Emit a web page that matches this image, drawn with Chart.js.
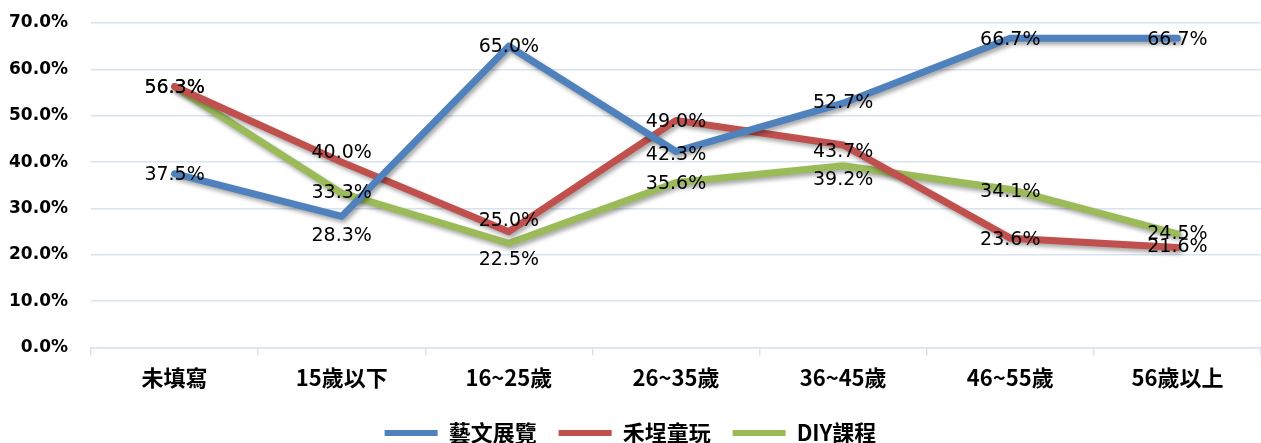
<!DOCTYPE html>
<html>
<head>
<meta charset="utf-8">
<script src="https://cdn.jsdelivr.net/npm/chart.js@4/dist/chart.umd.min.js"></script>
<style>
html,body{margin:0;padding:0;background:#fff;}
canvas{display:block;}
</style>
</head>
<body>
<canvas id="c" width="1261" height="443"></canvas>
<script>
const categories = ['未填寫', '15歲以下', '16~25歲', '26~35歲', '36~45歲', '46~55歲', '56歲以上'];
const seriesNames = ['藝文展覽', '禾埕童玩', 'DIY課程'];
const artExhibition = [37.5, 28.3, 65.0, 42.3, 52.7, 66.7, 66.7];
const farmToys = [56.3, 40.0, 25.0, 49.0, 43.7, 23.6, 21.6];
const diyCourse = [56.3, 33.3, 22.5, 35.6, 39.2, 34.1, 24.5];
const yTicks = [0, 10, 20, 30, 40, 50, 60, 70];

// label placement (style): vertical nudge of each data label relative to its point
const labelNudge = [
  [1, 20, 1, 4, 0, 2, 2],
  [2, -9, -11, 2, 7, 2, 0],
  [2, 0, 17, 2, 14, 3, 0]
];
const colors = ['#4F81BD', '#C0504D', '#9BBB59'];
const CJK = '"Noto Sans CJK TC", "Noto Sans CJK SC", sans-serif';

const shadowPlugin = {
  id: 'lineShadow',
  beforeDatasetDraw(chart) {
    const ctx = chart.ctx;
    ctx.save();
    ctx.shadowColor = 'rgba(0,0,0,0.35)';
    ctx.shadowBlur = 4;
    ctx.shadowOffsetX = 2;
    ctx.shadowOffsetY = 3;
  },
  afterDatasetDraw(chart) {
    chart.ctx.restore();
  }
};

const labelPlugin = {
  id: 'valueLabels',
  afterDatasetsDraw(chart) {
    const ctx = chart.ctx;
    ctx.save();
    ctx.font = '19px "DejaVu Sans", sans-serif';
    ctx.fillStyle = '#000';
    ctx.textAlign = 'center';
    ctx.textBaseline = 'middle';
    chart.data.datasets.forEach((ds, di) => {
      const meta = chart.getDatasetMeta(di);
      meta.data.forEach((pt, i) => {
        const v = ds.data[i];
        ctx.fillText(v.toFixed(1) + '%', pt.x, pt.y + labelNudge[di][i]);
      });
    });
    ctx.restore();
  }
};

const seriesData = [artExhibition, farmToys, diyCourse];

new Chart(document.getElementById('c'), {
  type: 'line',
  data: {
    labels: categories,
    datasets: seriesNames.map((name, i) => ({
      label: name,
      data: seriesData[i],
      borderColor: colors[i],
      backgroundColor: colors[i],
      borderWidth: 7,
      pointRadius: 0,
      pointHoverRadius: 0,
      tension: 0,
      fill: false,
      borderCapStyle: 'round',
      borderJoinStyle: 'round'
    }))
  },
  options: {
    responsive: false,
    animation: false,
    events: [],
    layout: { padding: { top: 23, right: 0, left: 0, bottom: -11 } },
    plugins: {
      legend: {
        position: 'bottom',
        labels: {
          boxWidth: 53,
          boxHeight: 6,
          padding: 22,
          color: '#000',
          font: { family: CJK, size: 22, weight: 'bold' },
          generateLabels(chart) {
            return Chart.defaults.plugins.legend.labels.generateLabels(chart)
              .map(l => Object.assign(l, { lineWidth: 0 }));
          }
        }
      },
      tooltip: { enabled: false },
      title: { display: false }
    },
    scales: {
      x: {
        offset: true,
        grid: {
          offset: true,
          drawOnChartArea: false,
          drawTicks: true,
          tickLength: 8,
          color: '#D9E2F1',
          lineWidth: 1.5
        },
        border: { display: true, color: '#D9E2F1', width: 1.5 },
        ticks: {
          color: '#000',
          padding: 9,
          maxRotation: 0,
          autoSkip: false,
          font: { family: CJK, size: 22, weight: 'bold' }
        }
      },
      y: {
        min: yTicks[0],
        max: yTicks[yTicks.length - 1],
        afterFit(scale) { scale.width = 91; },
        afterBuildTicks(scale) { scale.ticks = yTicks.map(v => ({ value: v })); },
        grid: { color: '#D9E2F1', lineWidth: 1.5, drawTicks: true, tickLength: 23, tickColor: 'rgba(0,0,0,0)' },
        border: { display: false },
        ticks: {
          color: '#000',
          padding: 0,
          font: { family: '"DejaVu Sans", sans-serif', size: 17, weight: 'bold' },
          callback: v => Number(v).toFixed(1) + '%'
        }
      }
    }
  },
  plugins: [shadowPlugin, labelPlugin]
});
</script>
</body>
</html>
